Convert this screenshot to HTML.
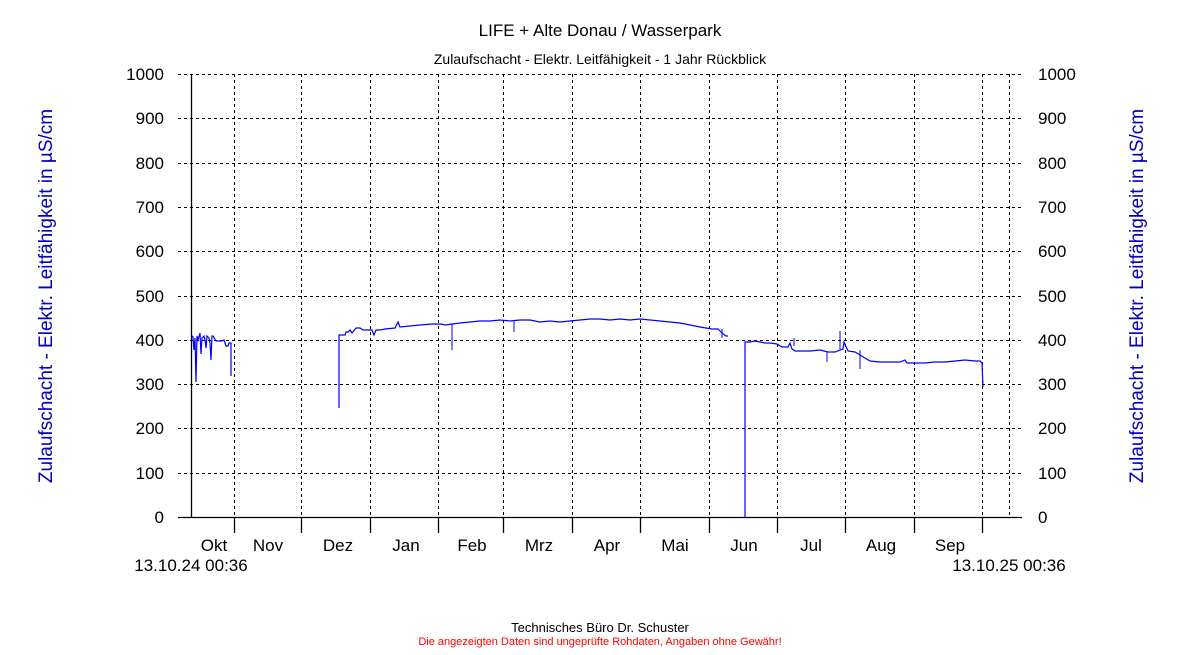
<!DOCTYPE html>
<html><head><meta charset="utf-8"><style>
body{margin:0;background:#fff;width:1200px;height:650px;overflow:hidden;font-family:"Liberation Sans",sans-serif}
</style></head><body>
<svg width="1200" height="650" xmlns="http://www.w3.org/2000/svg" font-family="Liberation Sans, sans-serif">
<text x="600" y="36" font-size="17" text-anchor="middle">LIFE + Alte Donau / Wasserpark</text>
<text x="600" y="64" font-size="14" text-anchor="middle">Zulaufschacht - Elektr. Leitfähigkeit - 1 Jahr Rückblick</text>
<g stroke="#000" stroke-dasharray="3,3" stroke-width="1">
<line x1="178" y1="74.5" x2="1022" y2="74.5"/><line x1="178" y1="118.5" x2="1022" y2="118.5"/>
<line x1="178" y1="163.5" x2="1022" y2="163.5"/><line x1="178" y1="207.5" x2="1022" y2="207.5"/>
<line x1="178" y1="251.5" x2="1022" y2="251.5"/><line x1="178" y1="296.5" x2="1022" y2="296.5"/>
<line x1="178" y1="340.5" x2="1022" y2="340.5"/><line x1="178" y1="384.5" x2="1022" y2="384.5"/>
<line x1="178" y1="428.5" x2="1022" y2="428.5"/><line x1="178" y1="473.5" x2="1022" y2="473.5"/>
<g>
<line x1="234.5" y1="74" x2="234.5" y2="517"/><line x1="301.5" y1="74" x2="301.5" y2="517"/>
<line x1="370.5" y1="74" x2="370.5" y2="517"/><line x1="438.5" y1="74" x2="438.5" y2="517"/>
<line x1="503.5" y1="74" x2="503.5" y2="517"/><line x1="572.5" y1="74" x2="572.5" y2="517"/>
<line x1="640.5" y1="74" x2="640.5" y2="517"/><line x1="709.5" y1="74" x2="709.5" y2="517"/>
<line x1="777.5" y1="74" x2="777.5" y2="517"/><line x1="845.5" y1="74" x2="845.5" y2="517"/>
<line x1="914.5" y1="74" x2="914.5" y2="517"/><line x1="982.5" y1="74" x2="982.5" y2="517"/>
<line x1="1009.5" y1="74" x2="1009.5" y2="517"/>
</g></g>
<g stroke="#000" stroke-width="1.3">
<line x1="191.5" y1="74" x2="191.5" y2="517"/>
<line x1="178" y1="517.5" x2="1022" y2="517.5"/>
<line x1="234.5" y1="517" x2="234.5" y2="533"/><line x1="301.5" y1="517" x2="301.5" y2="533"/>
<line x1="370.5" y1="517" x2="370.5" y2="533"/><line x1="438.5" y1="517" x2="438.5" y2="533"/>
<line x1="503.5" y1="517" x2="503.5" y2="533"/><line x1="572.5" y1="517" x2="572.5" y2="533"/>
<line x1="640.5" y1="517" x2="640.5" y2="533"/><line x1="709.5" y1="517" x2="709.5" y2="533"/>
<line x1="777.5" y1="517" x2="777.5" y2="533"/><line x1="845.5" y1="517" x2="845.5" y2="533"/>
<line x1="914.5" y1="517" x2="914.5" y2="533"/><line x1="982.5" y1="517" x2="982.5" y2="533"/>
</g>
<g font-size="17" text-anchor="end">
<text x="164" y="80">1000</text><text x="164" y="124">900</text><text x="164" y="169">800</text><text x="164" y="213">700</text><text x="164" y="257">600</text><text x="164" y="302">500</text><text x="164" y="346">400</text><text x="164" y="390">300</text><text x="164" y="434">200</text><text x="164" y="479">100</text><text x="164" y="523">0</text>
</g>
<g font-size="17" text-anchor="start">
<text x="1038" y="80">1000</text><text x="1038" y="124">900</text><text x="1038" y="169">800</text><text x="1038" y="213">700</text><text x="1038" y="257">600</text><text x="1038" y="302">500</text><text x="1038" y="346">400</text><text x="1038" y="390">300</text><text x="1038" y="434">200</text><text x="1038" y="479">100</text><text x="1038" y="523">0</text>
</g>
<g font-size="17" text-anchor="middle">
<text x="214" y="551">Okt</text><text x="268" y="551">Nov</text><text x="338" y="551">Dez</text><text x="406" y="551">Jan</text><text x="472" y="551">Feb</text><text x="539" y="551">Mrz</text><text x="607" y="551">Apr</text><text x="675" y="551">Mai</text><text x="744" y="551">Jun</text><text x="811" y="551">Jul</text><text x="881" y="551">Aug</text><text x="950" y="551">Sep</text>
</g>
<text x="191" y="571" font-size="17" text-anchor="middle">13.10.24 00:36</text>
<text x="1009" y="571" font-size="17" text-anchor="middle">13.10.25 00:36</text>
<text transform="translate(52,296) rotate(-90)" font-size="19" fill="#0000c0" text-anchor="middle">Zulaufschacht - Elektr. Leitfähigkeit in µS/cm</text>
<text transform="translate(1143,296) rotate(-90)" font-size="19" fill="#0000c0" text-anchor="middle">Zulaufschacht - Elektr. Leitfähigkeit in µS/cm</text>
<g fill="none" stroke="#0000ff" stroke-width="1.2">
<polyline points="191,335 193,337 194,350 195,338 196,382 197,336 198,340 200,333 201,354 202,338 204,336 205,340 206,348 207,336 209,338 210,343 211,360 212,336 213,336 216,341 222,341 224,340 226,346 228,346 229,343 231,343 231,376"/>
<polyline points="339,408 339,335 345,335 346,332 348,332 350,330 352,333 356,328 360,328 363,330 372,330 374,335 376,330 380,330 385,329 395,328 398,322 400,327 410,326 420,325 432,324 436,324 440,324 446,325 452,324 460,323 470,322 480,321 490,321 500,320 510,321 520,320 530,320 540,322 550,321 560,322 570,321 580,320 590,319 600,319 610,320 620,319 630,320 640,319 650,320 660,321 670,322 680,323 690,325 700,327 706,328 712,329 718,329 722,333 726,336 728,336"/>
<polyline points="745,517 745,342 750,342 755,341 760,342 765,343 770,343 777,344 782,347 788,347 790,343 792,349 795,351 800,351 810,351 820,350 828,352 835,352 840,350 843,349 844,342 848,351 855,352 860,355 865,358 870,361 880,362 890,362 900,362 905,360 907,363 915,363 925,363 935,362 945,362 955,361 965,360 975,361 980,361 982,363 983,387"/>
</g>
<g stroke="#0000ff" stroke-width="1" fill="none">
<line x1="840" y1="349" x2="840" y2="331"/><line x1="860" y1="350" x2="860" y2="369"/>
<line x1="827" y1="352" x2="827" y2="362"/><line x1="794" y1="346" x2="794" y2="338"/>
<line x1="452" y1="324" x2="452" y2="350"/><line x1="514" y1="321" x2="514" y2="332"/>
<line x1="722" y1="329" x2="722" y2="338"/>
</g>
<text x="600" y="632" font-size="13" text-anchor="middle">Technisches Büro Dr. Schuster</text>
<text x="600" y="645" font-size="11" fill="#ff0000" text-anchor="middle">Die angezeigten Daten sind ungeprüfte Rohdaten, Angaben ohne Gewähr!</text>
</svg>
</body></html>
